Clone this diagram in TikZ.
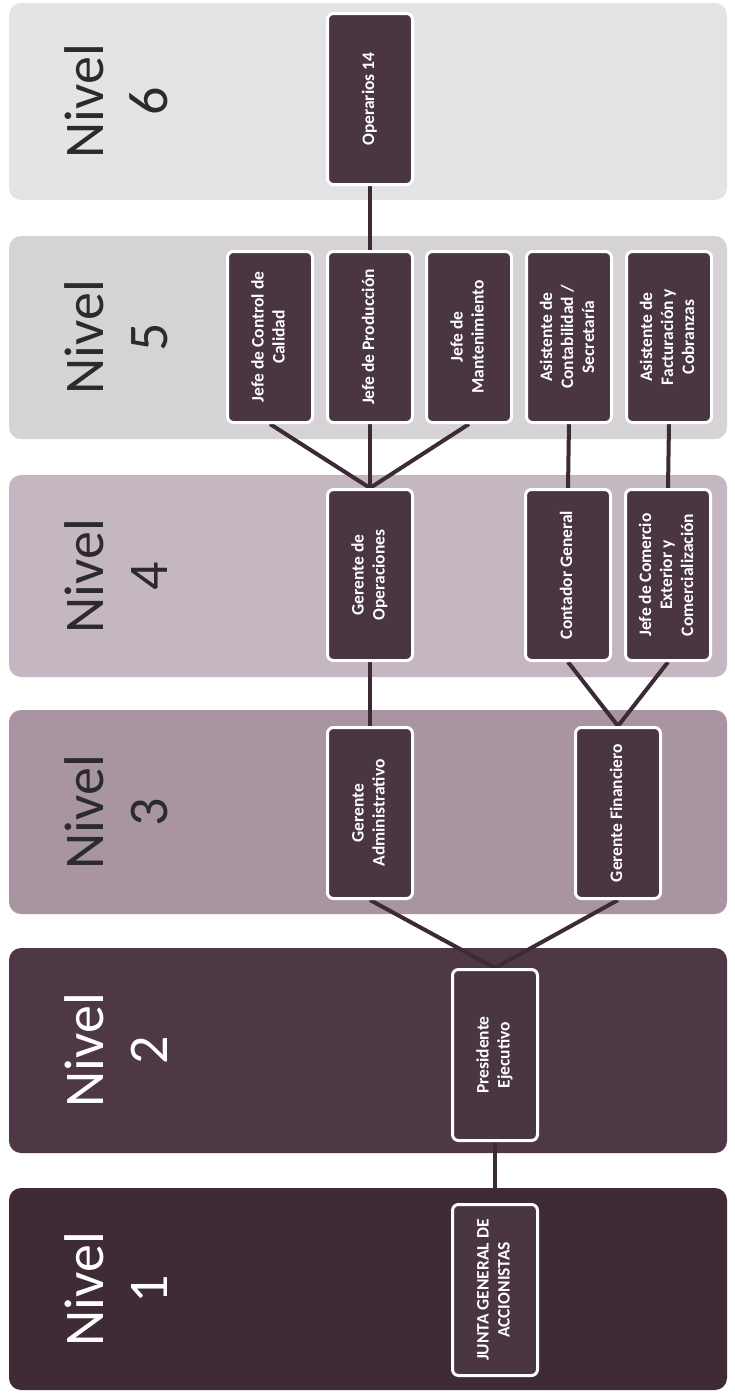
\documentclass[tikz,border=0pt]{standalone}
\usepackage{fontspec}
\setmainfont{Carlito}
\usepackage{graphicx}
\pgfdeclarelayer{back}
\pgfdeclarelayer{mid}
\pgfsetlayers{back,mid,main}
\definecolor{boxfill}{HTML}{4A3642}
\definecolor{linecol}{HTML}{3C2A34}
\definecolor{bsix}{HTML}{E4E3E6}
\definecolor{bfive}{HTML}{D6D3D7}
\definecolor{bfour}{HTML}{C4B7C1}
\definecolor{bthree}{HTML}{A995A1}
\definecolor{btwo}{HTML}{4F3846}
\definecolor{bone}{HTML}{3F2B36}
\definecolor{dtext}{HTML}{2B2B2B}
\newcommand{\vtxt}[1]{\rotatebox{90}{\begin{tabular}{@{}c@{}}#1\end{tabular}}}
\tikzset{
  orgbox/.style={draw=white, line width=3pt, fill=boxfill, rounded corners=6pt,
    minimum width=85pt, minimum height=171pt, inner sep=0pt, text=white,
    font=\bfseries\fontsize{17.5}{21}\selectfont},
  band/.style={rounded corners=12pt},
  link/.style={draw=linecol, line width=4pt},
  lvl/.style={font=\fontsize{56}{64}\selectfont, align=center, rotate=90, inner sep=0pt}
}
\begin{document}
\begin{tikzpicture}[x=1pt,y=-1pt]
\useasboundingbox (0,0) rectangle (734,1395);
\begin{pgfonlayer}{back}
\fill[white] (0,0) rectangle (734,1395);
\fill[band, fill=bsix]   (9,3)    rectangle (727,200);
\fill[band, fill=bfive]  (9,236)  rectangle (727,439);
\fill[band, fill=bfour]  (9,475)  rectangle (727,677);
\fill[band, fill=bthree] (9,710)  rectangle (727,914);
\fill[band, fill=btwo]   (9,948)  rectangle (727,1153);
\fill[band, fill=bone]   (9,1188) rectangle (727,1390);
\end{pgfonlayer}
% level labels
\node[lvl, text=dtext] (l6) at (116,101) {Nivel\\6};
\node[lvl, text=dtext] (l5) at (116,337) {Nivel\\5};
\node[lvl, text=dtext] (l4) at (116,576) {Nivel\\4};
\node[lvl, text=dtext] (l3) at (116,812) {Nivel\\3};
\node[lvl, text=white] (l2) at (116,1050) {Nivel\\2};
\node[lvl, text=white] (l1) at (116,1289) {Nivel\\1};
% boxes
\node[orgbox] (ope)  at (370,99)   {\vtxt{Operarios 14}};
\node[orgbox] (cal)  at (270,337)  {\vtxt{Jefe de Control de\\Calidad}};
\node[orgbox] (prod) at (370,337)  {\vtxt{Jefe de Producción}};
\node[orgbox] (mant) at (469,337)  {\vtxt{Jefe de\\Mantenimiento}};
\node[orgbox] (asc)  at (569,337)  {\vtxt{Asistente de\\Contabilidad /\\Secretaría}};
\node[orgbox] (asf)  at (669,337)  {\vtxt{Asistente de\\Facturación y\\Cobranzas}};
\node[orgbox] (gop)  at (370,575)  {\vtxt{Gerente de\\Operaciones}};
\node[orgbox] (cont) at (568,575)  {\vtxt{Contador General}};
\node[orgbox] (jce)  at (668,575)  {\vtxt{Jefe de Comercio\\Exterior y\\Comercialización}};
\node[orgbox] (gadm) at (370,813)  {\vtxt{Gerente\\Administrativo}};
\node[orgbox] (gfin) at (618,813)  {\vtxt{Gerente Financiero}};
\node[orgbox] (pres) at (495,1055) {\vtxt{Presidente\\Ejecutivo}};
\node[orgbox] (junta) at (495,1290) {\vtxt{JUNTA GENERAL DE\\ACCIONISTAS}};
% connectors
\begin{pgfonlayer}{mid}
\draw[link] (ope.south) -- (prod.north);
\draw[link] (cal.south) -- (gop.north);
\draw[link] (prod.south) -- (gop.north);
\draw[link] (mant.south) -- (gop.north);
\draw[link] (asc.south) -- (cont.north);
\draw[link] (asf.south) -- (jce.north);
\draw[link] (gop.south) -- (gadm.north);
\draw[link] (cont.south) -- (gfin.north);
\draw[link] (jce.south) -- (gfin.north);
\draw[link] (gadm.south) -- (pres.north);
\draw[link] (gfin.south) -- (pres.north);
\draw[link] (pres.south) -- (junta.north);
\end{pgfonlayer}
\end{tikzpicture}
\end{document}
